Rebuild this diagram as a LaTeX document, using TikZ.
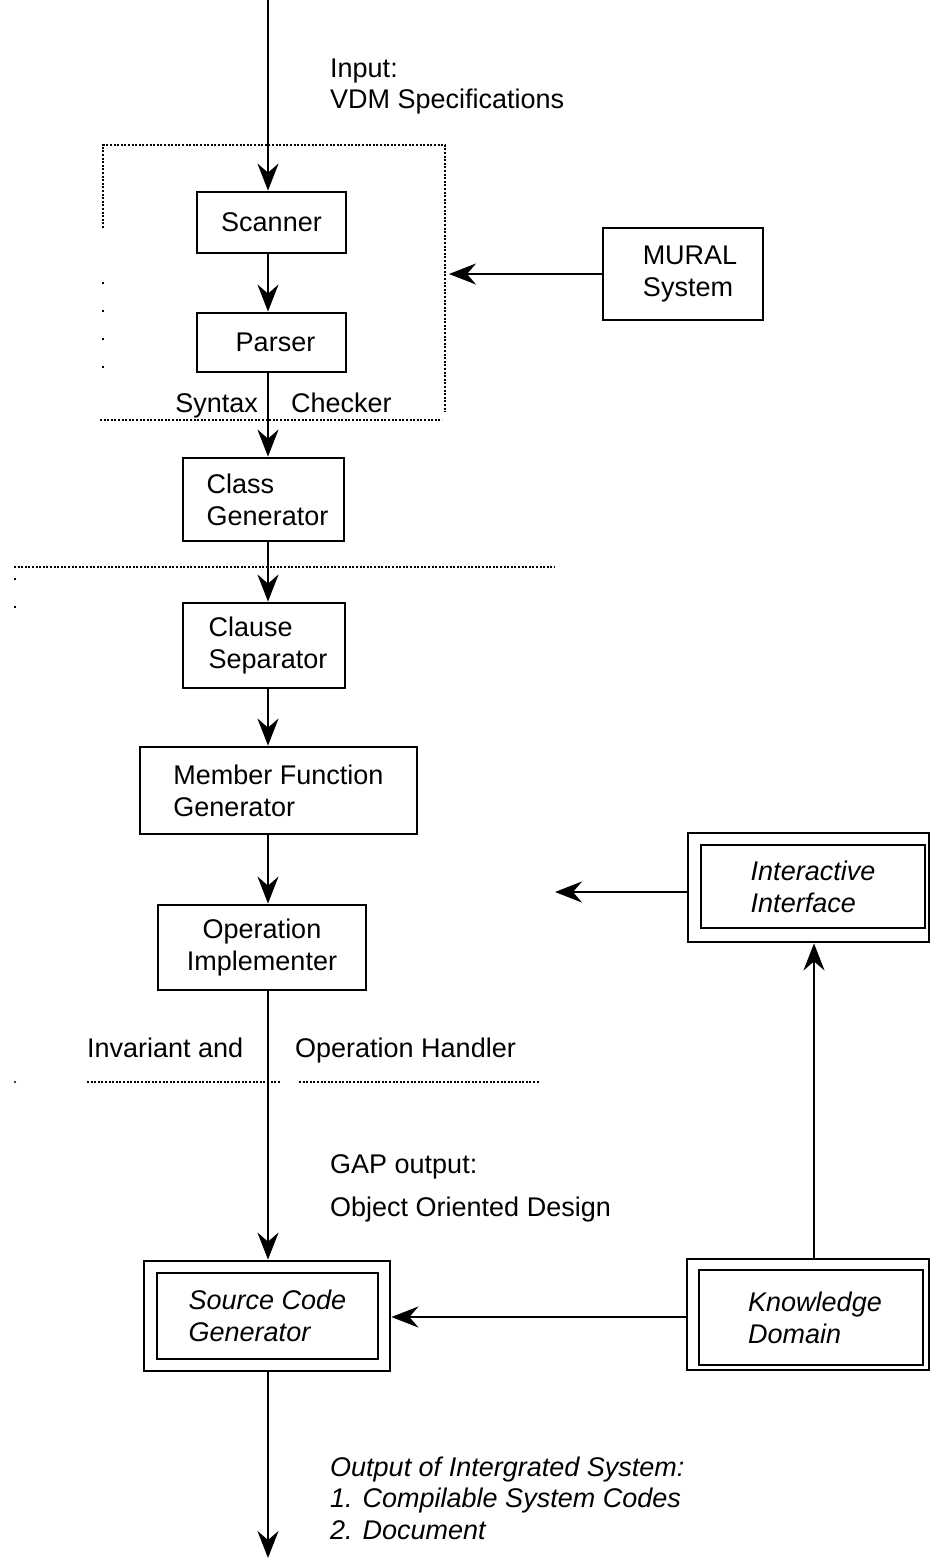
\documentclass[tikz,border=0pt]{standalone}
\usepackage{fontspec}
\setmainfont{Liberation Sans}
\usetikzlibrary{arrows.meta}
\begin{document}
\begin{tikzpicture}[x=1pt,y=-1pt,
  box/.style={draw, line width=2.8pt, inner sep=0pt, font=\fontsize{27}{32}\selectfont, align=left},
  ibox/.style={box, font=\fontsize{27}{32}\selectfont\itshape},
  lbl/.style={font=\fontsize{27}{32}\selectfont, inner sep=0pt, anchor=base west},
  ilbl/.style={lbl, font=\fontsize{27}{32}\selectfont\itshape},
  conn/.style={line width=2.3pt, -{Stealth[length=27pt,width=21pt,inset=9pt]}},
  dots/.style={line width=2pt, dash pattern=on 2pt off 1.6pt},
  sparse/.style={line width=2pt, dash pattern=on 2pt off 26pt}]
\useasboundingbox (0,0) rectangle (930,1561);
\fill[white] (0,0) rectangle (930,1561);

% main axis
\coordinate (axis) at (268,0);
\coordinate (bottom) at (268,1558);

% boxes
\node[box, minimum width=149pt, minimum height=61pt] (scanner) at (271.5,222.5) {Scanner};
\node[box, minimum width=149pt, minimum height=59pt] (parser) at (271.5,342.5) {\hspace*{8pt}Parser};
\node[box, minimum width=161pt, minimum height=83pt] (classgen) at (263.5,499.5) {\hspace*{8pt}Class\\\hspace*{8pt}Generator};
\node[box, minimum width=162pt, minimum height=85pt] (clause) at (264,645.5) {\hspace*{8pt}Clause\\\hspace*{8pt}Separator};
\node[box, minimum width=277pt, minimum height=87pt] (member) at (278.5,790.5) {Member Function\\Generator};
\node[box, minimum width=208pt, minimum height=85pt, align=center] (oper) at (262,947.5) {Operation\\Implementer};
\node[box, minimum width=160pt, minimum height=92pt, align=center] (mural) at (683,274) {\hspace*{14pt}MURAL\\\hspace*{10pt}System};

% double boxes
\node[box, minimum width=246pt, minimum height=110pt] (sourceout) at (267,1316) {};
\node[ibox, minimum width=221pt, minimum height=86pt] (source) at (267.5,1316) {Source Code\\Generator};
\node[box, minimum width=242pt, minimum height=111pt] (knowout) at (808,1314.5) {};
\node[ibox, minimum width=224pt, minimum height=95pt] (know) at (811,1317.5) {\hspace*{8pt}Knowledge\\\hspace*{8pt}Domain};
\node[box, minimum width=241pt, minimum height=109pt] (interout) at (808.5,887.5) {};
\node[ibox, minimum width=224pt, minimum height=83pt] (inter) at (813,886.5) {Interactive\\Interface};

% dotted syntax checker box
\draw[dots] (103,228) -- (103,145) -- (445,145) -- (445,412);
\draw[dots] (100,420) -- (442,420);
\draw[sparse] (103,282) -- (103,370);
\coordinate (sbE) at (449,274);

% dotted separators
\draw[dots] (14,567) -- (555,567);
\draw[sparse] (15,578) -- (15,610);
\draw[dots] (87,1082) -- (281,1082);
\draw[dots] (299,1082) -- (539,1082);
\fill (15,1082) circle (1.2pt);

% connectors
\draw[conn] (axis) -- (axis |- scanner.north);
\draw[conn] (axis |- scanner.south) -- (axis |- parser.north);
\draw[conn] (axis |- parser.south) -- (axis |- classgen.north);
\draw[conn] (axis |- classgen.south) -- (axis |- clause.north);
\draw[conn] (axis |- clause.south) -- (axis |- member.north);
\draw[conn] (axis |- member.south) -- (axis |- oper.north);
\draw[conn] (axis |- oper.south) -- (axis |- sourceout.north);
\draw[conn] (axis |- sourceout.south) -- (bottom);
\draw[conn] (mural.west) -- (sbE);
\draw[conn] (knowout.west |- 0,1317) -- (sourceout.east |- 0,1317);
\draw[conn] (814,0 |- knowout.north) -- (814,0 |- interout.south);
\coordinate (interE) at (555,892);
\draw[conn] (interout.west |- interE) -- (interE);

% labels
\node[lbl] (in1) at (330,77) {Input:};
\node[lbl] (in2) at (330,108) {VDM Specifications};
\node[lbl, anchor=base east] (syn) at (258,412) {Syntax};
\node[lbl] (chk) at (291,412) {Checker};
\node[lbl] (inv) at (87,1057) {Invariant and};
\node[lbl] (oph) at (295,1057) {Operation Handler};
\node[lbl] (gap1) at (330,1173) {GAP output:};
\node[lbl] (gap2) at (330,1216) {Object Oriented Design};
\node[ilbl] (out1) at (330,1476) {Output of Intergrated System:};
\node[ilbl] (out2) at (330,1507) {1. Compilable System Codes};
\node[ilbl] (out3) at (330,1539) {2. Document};
\end{tikzpicture}
\end{document}
